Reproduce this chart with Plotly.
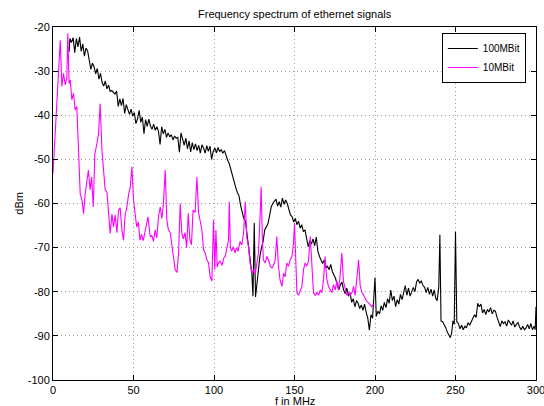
import plotly.graph_objects as go

# ---- data ----
f_100 = [10, 10.5, 11.5, 12.5, 13.5, 14.5, 15.5, 16.5, 17.5, 18.5, 19.5, 20.5, 21.5, 22.5, 23.5, 24.5,
         25.5, 26.5, 27.5, 28.5, 29.5, 30.5, 31.5, 32.5, 33.5, 34.5, 35.5, 36.5, 37.5, 38.5, 39.5,
         40.5, 41.5, 42.5, 43.5, 44.5, 45.5, 46.5, 47.5, 48.5, 49.5, 50.5, 51.5, 52.5, 53.5, 54.5,
         55.5, 56.5, 57.5, 58.5, 59.5, 60.5, 61.5, 62.5, 63.5, 64.5, 65.5, 66.5, 67.5, 68.5, 69.5,
         70.5, 71.5, 72.5, 73.5, 74.5, 75.5, 76.5, 77.5, 78.5, 79.5, 80.5, 81.5, 82.5, 83.5, 84.5,
         85.5, 86.5, 87.5, 88.5, 89.5, 90.5, 91.5, 92.5, 93.5, 94.5, 95.5, 96.5, 97.5, 98.5, 99.5,
         100.5, 101.5, 102.5, 103.5, 104.5, 105.5, 106.5, 107.5, 108.5, 109.5, 110.5, 111.5, 112.5,
         113.5, 114.5, 115.5, 116.5, 117.5, 118.5, 119.5, 120.5, 121.5, 122.5, 123.5, 124.2, 125.0,
         125.8, 126.8, 127.5, 128.5, 129.5, 130.5, 131.5, 132.5, 133.5, 134.5, 135.5, 136.5, 137.5,
         138.5, 139.5, 140.5, 141.5, 142.5, 143.5, 144.5, 145.5, 146.5, 147.5, 148.5, 149.5, 150.5,
         151.5, 152.5, 153.5, 154.5, 155.5, 156.5, 157.5, 158.5, 159.5, 160.5, 161.5, 162.5, 163.5,
         164.5, 165.5, 166.5, 167.5, 168.5, 169.5, 170.5, 171.5, 172.5, 173.5, 174.5, 175.5, 176.5,
         177.5, 178.5, 179.5, 180.5, 181.5, 182.5, 183.5, 184.5, 185.5, 186.5, 187.5, 188.5, 189.5,
         190.5, 191.5, 192.5, 193.5, 194.5, 195.5, 196.5, 197.5, 198.5, 199.5, 200.0, 200.8, 201.8,
         202.8, 203.8, 204.8, 205.8, 206.8, 207.8, 208.8, 209.8, 210.8, 211.8, 212.8, 213.8, 214.8,
         215.8, 216.8, 217.8, 218.8, 219.8, 220.8, 221.8, 222.8, 223.8, 224.8, 225.8, 226.8, 227.8,
         228.8, 229.8, 230.8, 231.8, 232.8, 233.8, 234.8, 235.8, 236.8, 237.8, 238.6, 239.6, 240.3,
         241.0, 242.0, 243.0, 244.0, 245.0, 246.0, 246.8, 247.6, 248.4, 249.2, 250.0, 250.8, 251.8,
         252.8, 253.8, 254.8, 255.8, 256.8, 257.8, 258.8, 259.8, 260.8, 261.8, 262.8, 263.8, 264.8,
         265.8, 266.8, 267.8, 268.8, 269.8, 270.8, 271.8, 272.8, 273.8, 274.8, 275.8, 276.8, 277.8,
         278.8, 279.8, 280.8, 281.8, 282.8, 283.8, 284.8, 285.8, 286.8, 287.8, 288.8, 289.8, 290.8,
         291.8, 292.8, 293.8, 294.8, 295.8, 296.8, 297.8, 298.8, 299.5, 300.0]
db_100 = [-25.6, -22.6, -23.5, -22.4, -25.8, -22.6, -24.5, -22.3, -25.5, -23.8, -26.6, -24.8, -25.4,
          -27.8, -29.6, -28.2, -29.0, -30.6, -29.4, -31.8, -30.5, -32.6, -33.4, -32.2, -34.0, -33.2,
          -34.6, -34.4, -34.8, -35.2, -34.5, -38.0, -36.3, -37.8, -36.2, -39.6, -37.6, -38.7, -39.8,
          -38.6, -40.2, -39.4, -41.9, -40.8, -38.9, -41.6, -40.4, -44.2, -41.0, -42.5, -40.9, -42.4,
          -43.2, -42.0, -43.4, -42.6, -43.6, -46.6, -42.6, -44.2, -43.2, -45.0, -44.0, -44.9, -44.4,
          -45.6, -44.7, -45.2, -45.0, -48.4, -44.0, -45.4, -46.8, -45.2, -47.6, -45.8, -48.3, -46.2,
          -47.8, -46.5, -48.0, -46.8, -48.6, -46.7, -47.4, -48.6, -46.9, -48.2, -47.0, -50.0, -48.2,
          -47.4, -48.5, -47.3, -48.2, -47.8, -48.6, -48.0, -49.4, -50.2, -51.0, -52.4, -54.0, -55.6,
          -56.4, -57.5, -58.2, -60.4, -62.0, -63.4, -64.0, -67.0, -70.0, -72.5, -75.8, -81.0, -64.4,
          -81.2, -78.0, -74.4, -72.0, -70.0, -68.6, -66.0, -65.3, -64.6, -62.8, -60.8, -60.0, -59.4,
          -59.0, -60.6, -59.6, -60.8, -58.8, -60.2, -59.2, -60.0, -61.2, -62.6, -63.0, -64.2, -63.4,
          -64.8, -64.0, -65.6, -64.8, -66.4, -66.0, -67.6, -69.8, -68.4, -69.2, -68.0, -69.6, -67.6,
          -70.8, -72.0, -72.8, -73.6, -72.8, -74.6, -74.2, -75.0, -73.8, -75.4, -76.2, -77.0, -78.4,
          -79.6, -78.4, -77.8, -79.6, -80.4, -79.2, -81.0, -80.2, -82.4, -81.6, -83.4, -82.0, -82.6,
          -83.8, -83.0, -84.2, -82.8, -84.6, -86.0, -88.7, -85.2, -86.0, -79.0, -76.8, -85.6, -84.4,
          -85.0, -83.2, -84.2, -82.4, -83.6, -81.6, -82.6, -79.6, -82.0, -81.0, -83.4, -81.8, -82.8,
          -80.6, -81.8, -80.2, -78.6, -80.8, -79.2, -81.0, -80.2, -79.0, -80.0, -77.8, -77.2, -78.0,
          -77.6, -78.6, -79.0, -80.2, -79.0, -80.6, -79.4, -81.0, -79.6, -81.6, -82.0, -79.0, -67.1,
          -86.6, -86.8, -87.4, -88.2, -89.2, -90.0, -90.4, -89.4, -86.6, -87.4, -66.4, -86.8, -87.2,
          -88.4, -87.6, -88.6, -87.8, -88.2, -87.0, -87.6, -86.6, -86.0, -85.2, -85.8, -82.6, -83.4,
          -82.8, -84.8, -84.0, -85.2, -84.0, -84.6, -83.6, -85.0, -84.2, -84.4, -85.8, -87.0, -87.9,
          -86.6, -87.2, -86.8, -87.8, -86.4, -87.2, -87.6, -86.6, -88.0, -87.4, -87.0, -88.0, -88.6,
          -87.8, -88.6, -88.2, -87.4, -88.4, -87.2, -88.6, -87.8, -88.6, -83.4]

f_10 = [0, 0.8, 1.6, 2.4, 3.4, 4.5, 5.5, 6.5, 7.6, 8.6, 9.2, 10.0, 10.7, 11.7, 12.7, 13.8, 14.8,
        15.8, 16.9, 18.0, 19.0, 20.0, 21.0, 22.0, 23.0, 24.0, 25.0, 26.0, 27.3, 28.3, 29.3, 30.4,
        31.4, 32.4, 33.5, 34.5, 35.5, 36.6, 37.6, 38.6, 39.7, 40.7, 41.7, 42.8, 43.8, 44.8, 45.9,
        47.0, 48.0, 49.0, 50.0, 51.0, 52.0, 53.0, 54.0, 55.0, 56.0, 57.0, 58.0, 59.0, 60.4, 61.4,
        62.4, 63.4, 64.5, 65.5, 66.6, 67.6, 68.6, 69.7, 70.7, 71.7, 72.8, 73.8, 74.8, 75.9, 77.0,
        78.0, 79.0, 80.0, 81.0, 82.0, 83.0, 84.0, 85.0, 86.0, 87.0, 88.3, 89.4, 90.4, 91.4, 92.5,
        93.5, 94.5, 95.6, 96.6, 97.6, 98.7, 99.7, 100.5, 101.2, 102.0, 102.8, 103.8, 105.0, 106.0,
        107.0, 108.0, 109.0, 109.5, 110.2, 111.0, 112.0, 113.0, 114.0, 115.0, 116.2, 117.3, 118.4,
        119.4, 120.4, 121.4, 122.4, 123.5, 124.5, 125.6, 126.6, 127.6, 128.7, 129.3, 130.0, 130.7,
        131.8, 132.8, 133.9, 134.9, 136.0, 137.0, 138.0, 139.0, 140.0, 141.0, 142.2, 143.2, 144.2,
        145.2, 146.3, 147.3, 148.4, 149.4, 150.0, 150.8, 151.5, 152.5, 153.5, 154.6, 155.6, 156.6,
        157.6, 158.7, 159.8, 160.8, 161.8, 162.9, 163.9, 165.0, 166.0, 167.0, 168.0, 169.0, 170.0,
        171.1, 172.1, 173.2, 174.2, 175.3, 176.3, 177.3, 178.3, 179.4, 180.4, 181.5, 182.5, 183.5,
        184.6, 185.7, 186.7, 187.7, 188.8, 189.8, 190.8, 191.9, 192.9, 193.9, 194.9, 196.0, 197.0,
        198.0, 199.0]
db_10 = [-53.2, -47.8, -42.6, -36.5, -32.8, -23.0, -33.5, -30.5, -33.1, -31.5, -21.5, -32.8, -32.0,
         -36.5, -35.0, -38.8, -38.0, -46.4, -57.8, -59.2, -62.3, -57.8, -55.5, -52.4, -56.9, -54.0,
         -60.8, -48.7, -46.4, -44.1, -37.4, -47.8, -52.4, -56.9, -57.4, -62.3, -66.8, -62.4, -65.3,
         -62.6, -66.6, -61.5, -61.0, -66.0, -68.3, -62.6, -60.8, -57.8, -56.3, -51.7, -59.2, -62.3,
         -65.3, -64.2, -68.3, -67.0, -68.4, -66.7, -65.0, -63.0, -67.6, -67.2, -68.6, -66.0, -67.8,
         -63.0, -60.8, -63.4, -60.0, -52.4, -63.7, -66.0, -66.6, -70.0, -72.1, -75.0, -75.6, -71.3,
         -60.0, -66.7, -68.0, -66.6, -70.0, -62.2, -68.0, -69.4, -61.5, -62.0, -54.0, -62.0, -64.0,
         -66.0, -70.5, -71.2, -72.8, -73.4, -76.6, -77.6, -63.7, -75.0, -66.0, -74.4, -73.5, -73.0,
         -74.0, -72.4, -72.0, -70.0, -68.3, -59.6, -70.0, -70.8, -69.8, -71.2, -70.0, -70.8, -68.6,
         -69.4, -66.7, -59.6, -67.8, -69.8, -73.5, -75.7, -75.0, -76.0, -73.5, -71.2, -62.2, -56.2,
         -67.5, -72.8, -73.5, -72.0, -72.8, -74.2, -74.6, -74.0, -72.8, -67.5, -74.0, -77.3, -78.8,
         -75.8, -76.6, -73.5, -74.2, -72.8, -72.0, -69.0, -64.4, -73.0, -80.3, -80.8, -80.0, -78.8,
         -75.0, -73.5, -74.2, -73.0, -67.5, -75.7, -80.3, -80.8, -80.2, -80.8, -79.6, -80.2, -77.3,
         -72.0, -77.0, -78.8, -79.6, -80.2, -78.4, -79.6, -77.6, -79.6, -76.6, -71.2, -77.6, -79.6,
         -80.8, -80.2, -80.8, -80.2, -78.8, -80.8, -77.3, -72.8, -78.6, -80.2, -80.8, -81.6, -82.2,
         -82.5, -83.0, -83.4, -82.8]

series_names = ["100MBit", "10MBit"]
x_ticks = [0, 50, 100, 150, 200, 250, 300]
y_ticks = [-100, -90, -80, -70, -60, -50, -40, -30, -20]
title_text = "Frequency spectrum of ethernet signals"
x_label = "f in MHz"
y_label = "dBm"

FONT = "Liberation Sans, Arial, Helvetica, sans-serif"

fig = go.Figure()
fig.add_trace(go.Scatter(x=f_100, y=db_100, mode="lines", name=series_names[0],
                         line=dict(color="black", width=1.1)))
fig.add_trace(go.Scatter(x=f_10, y=db_10, mode="lines", name=series_names[1],
                         line=dict(color="#ff00ff", width=1.1)))

axis_common = dict(
    showline=True, linecolor="black", linewidth=1, mirror="ticks",
    ticks="inside", ticklen=5, tickcolor="black", tickwidth=1,
    showgrid=True, gridcolor="#a0a0a0", griddash="1px,3px", gridwidth=1,
    zeroline=False, tickfont=dict(family=FONT, size=11, color="black"),
    ticklabeloverflow="allow", automargin=False,
)
fig.update_xaxes(range=[0, 300], tickvals=x_ticks, ticktext=[str(v) for v in x_ticks], **axis_common)
fig.update_yaxes(range=[-100, -20], tickvals=y_ticks, ticktext=[str(v) for v in y_ticks], **axis_common)

fig.update_layout(
    width=544, height=406,
    margin=dict(l=53, r=8, t=27, b=26, autoexpand=False),
    paper_bgcolor="white", plot_bgcolor="white",
    font=dict(family=FONT, size=11, color="black"),
    showlegend=True,
    legend=dict(x=0.979, y=0.983, xanchor="right", yanchor="top",
                bgcolor="white", bordercolor="black", borderwidth=1,
                font=dict(family=FONT, size=10), itemwidth=30,
                tracegroupgap=0),
    annotations=[
        dict(text=title_text, x=0.5, y=1 + (27 - 14) / 353, xref="paper", yref="paper",
             showarrow=False, yanchor="middle", font=dict(family=FONT, size=11)),
        dict(text=x_label, x=0.5, y=-(401 - 380) / 353, xref="paper", yref="paper", showarrow=False,
             xanchor="center", yanchor="middle", font=dict(family=FONT, size=11)),
        dict(text=y_label, x=-0.072, y=0.5, xref="paper", yref="paper", showarrow=False,
             textangle=-90, xanchor="center", yanchor="middle", font=dict(family=FONT, size=11)),
    ],
)

fig.write_html("out.html")
